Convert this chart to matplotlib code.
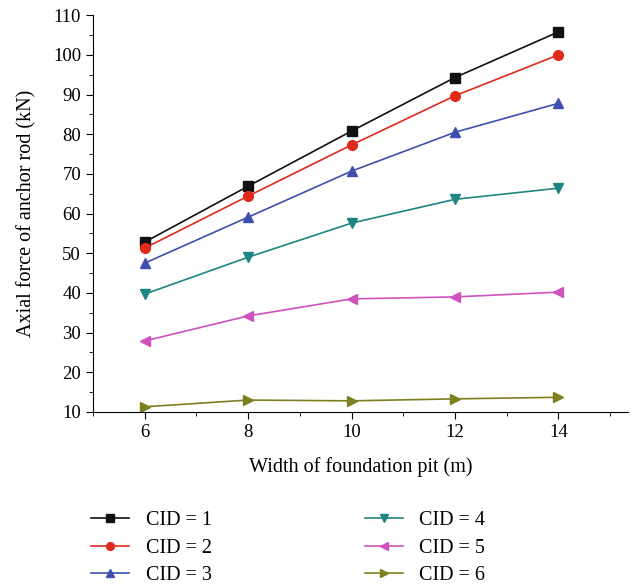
import matplotlib.pyplot as plt
from matplotlib.ticker import MultipleLocator

plt.rcParams['font.family'] = ['Liberation Serif', 'DejaVu Serif']

width = [6, 8, 10, 12, 14]
cid1 = [52.8, 66.9, 80.8, 94.3, 105.8]
cid2 = [51.3, 64.4, 77.3, 89.7, 100.0]
cid3 = [47.5, 59.1, 70.7, 80.5, 87.8]
cid4 = [39.7, 49.0, 57.6, 63.6, 66.4]
cid5 = [27.9, 34.2, 38.5, 39.0, 40.2]
cid6 = [11.3, 13.0, 12.8, 13.3, 13.7]

series = [cid1, cid2, cid3, cid4, cid5, cid6]
labels = ['CID = 1', 'CID = 2', 'CID = 3', 'CID = 4', 'CID = 5', 'CID = 6']
colors = ['#111111', '#e02a1c', '#3f4fae', '#1f8583', '#d052bc', '#7f7f1f']
markers = ['s', 'o', '^', 'v', '<', '>']

fig = plt.figure(figsize=(6.32, 5.86), dpi=100)
ax = fig.add_axes([0.147, 0.297, 0.847, 0.677])

for ys, lab, c, m in zip(series, labels, colors, markers):
    ax.plot(width, ys, color=c, marker=m, markersize=7, lw=1.2, label=lab)

ax.set_xlim(5, 15.35)
ax.set_ylim(10, 110)
ax.xaxis.set_major_locator(MultipleLocator(2))
ax.xaxis.set_minor_locator(MultipleLocator(1))
ax.yaxis.set_major_locator(MultipleLocator(10))
ax.yaxis.set_minor_locator(MultipleLocator(5))
ax.spines['top'].set_visible(False)
ax.spines['right'].set_visible(False)
ax.tick_params(which='both', direction='out', labelsize=13.5)
ax.tick_params(which='major', length=5)
ax.tick_params(which='minor', length=3)
ax.set_xlabel('Width of foundation pit (m)', fontsize=14.5, labelpad=12)
ax.set_ylabel('Axial force of anchor rod (kN)', fontsize=14.5, labelpad=12)

h, l = ax.get_legend_handles_labels()
fig.legend(h, l, ncol=2, frameon=False, fontsize=14.5, loc='lower left',
           bbox_to_anchor=(0.122, -0.023), columnspacing=7.6, handlelength=1.9,
           labelspacing=0.42, markerscale=0.8, borderpad=0.2)

fig.savefig('out.png', dpi=100)
